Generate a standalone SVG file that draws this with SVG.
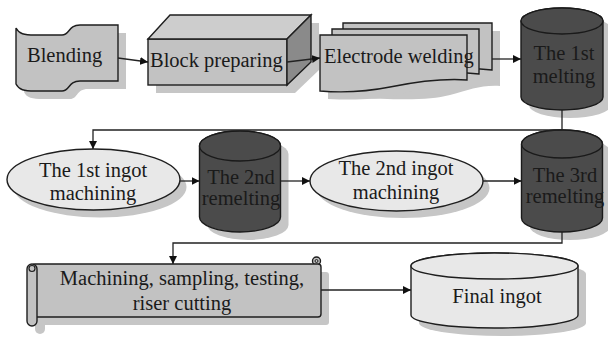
<svg xmlns="http://www.w3.org/2000/svg" width="608" height="347" viewBox="0 0 608 347">
<defs>
<style>
.sh{fill:#c6c6c6;stroke:none}
.g{fill:#c2c2c2;stroke:#1e1e1e;stroke-width:1.4}
.lt{fill:#e8e8e8;stroke:#1e1e1e;stroke-width:1.4}
.dk{fill:#4b4b4b;stroke:#1a1a1a;stroke-width:1.4}
.t{font-family:"Liberation Serif","Times New Roman",serif;font-size:20.5px;fill:#1a1a1a}
.c{text-anchor:middle}
.ln{fill:none;stroke:#222;stroke-width:1.3}
</style>
<marker id="ah" viewBox="0 0 10 10" refX="10" refY="5" markerWidth="8" markerHeight="8" markerUnits="userSpaceOnUse" orient="auto">
<path d="M0,0 L10,5 L0,10 Z" fill="#111"/>
</marker>
</defs>
<rect width="608" height="347" fill="#ffffff"/>

<g id="blending">
<path class="sh" d="M24,36 C27,42 32,43 43,43 L70,43 C78,43 76,33 88,33 L126,33 L126,89 L88,89 C76,89 78,99 70,99 L43,99 C32,99 27,98 24,92 Z"/>
<path class="g" d="M16,28 C19,34 24,35 35,35 L62,35 C70,35 68,25 80,25 L118,25 L118,81 L80,81 C68,81 70,91 62,91 L35,91 C24,91 19,90 16,84 Z"/>
<text class="t" x="27" y="62">Blending</text>
</g>

<g id="block">
<polygon class="sh" points="156,47 178,23 319,23 319,70 295,93 156,93"/>
<rect class="g" x="148" y="39" width="139" height="46"/>
<polygon points="148,39 170,15 311,15 287,39" fill="#cdcdcd" stroke="#1e1e1e" stroke-width="1.4"/>
<polygon points="287,39 311,15 311,62 287,85" fill="#8a8a8a" stroke="#1e1e1e" stroke-width="1.4"/>
<text class="t" x="150" y="67">Block preparing</text>
</g>

<g id="electrode">
<path class="sh" d="M351,31 L500,31 L500,86 C480,85 470,90 450,95 C430,100 410,100 351,98 Z"/>
<path class="sh" d="M328,43 L475,43 L475,88 C438,84 413,90 398,95 C373,100 353,100 328,99 Z"/>
<path class="g" d="M343,23 L492,23 L492,70 C455,66 430,72 410,77 C390,82 365,82 343,80 Z"/>
<path class="g" d="M332,29 L479,29 L479,74 C442,70 417,76 397,81 C377,86 352,86 332,85 Z"/>
<path class="g" d="M320,35 L467,35 L467,80 C440,78 415,82 390,87 C365,92 345,93 320,91 Z"/>
<text class="t" x="324" y="63">Electrode welding</text>
</g>

<g id="melt1">
<path class="sh" d="M529,29 A41,13 0 0 1 611,29 L611,105 A41,13 0 0 1 529,105 Z"/>
<path class="dk" d="M521,21 A41,13 0 0 1 603,21 L603,97 A41,13 0 0 1 521,97 Z"/>
<ellipse class="dk" cx="562" cy="21" rx="41" ry="13"/>
<text class="t c" x="564" y="60">The 1st</text>
<text class="t c" x="564" y="83">melting</text>
</g>

<g id="ingot1">
<ellipse class="sh" cx="100" cy="187" rx="86.5" ry="30.5"/>
<ellipse class="lt" cx="93.5" cy="179.5" rx="86.5" ry="30.5"/>
<text class="t c" x="93" y="177">The 1st ingot</text>
<text class="t c" x="93" y="200">machining</text>
</g>

<g id="remelt2">
<path class="sh" d="M207.5,154 A40.5,15 0 0 1 288.5,154 L288.5,225 A40.5,15 0 0 1 207.5,225 Z"/>
<path class="dk" d="M199.5,146 A40.5,15 0 0 1 280.5,146 L280.5,217 A40.5,15 0 0 1 199.5,217 Z"/>
<ellipse class="dk" cx="240" cy="146" rx="40.5" ry="15"/>
<text class="t c" x="241" y="184">The 2nd</text>
<text class="t c" x="241" y="205">remelting</text>
</g>

<g id="ingot2">
<ellipse class="sh" cx="403" cy="188" rx="86.5" ry="30"/>
<ellipse class="lt" cx="396.5" cy="181" rx="86.5" ry="30"/>
<text class="t c" x="396" y="175">The 2nd ingot</text>
<text class="t c" x="396" y="199">machining</text>
</g>

<g id="remelt3">
<path class="sh" d="M529.5,152 A40.5,14 0 0 1 610.5,152 L610.5,226 A40.5,14 0 0 1 529.5,226 Z"/>
<path class="dk" d="M521.5,144 A40.5,14 0 0 1 602.5,144 L602.5,218 A40.5,14 0 0 1 521.5,218 Z"/>
<ellipse class="dk" cx="562" cy="144" rx="40.5" ry="14"/>
<text class="t c" x="565" y="182">The 3rd</text>
<text class="t c" x="565" y="203">remelting</text>
</g>

<g id="machining">
<rect class="sh" x="40" y="272" width="289" height="53" rx="3"/>
<rect class="sh" x="35" y="300" width="10" height="34" rx="5"/>
<circle class="g" cx="316.5" cy="261" r="4"/>
<rect class="g" x="32" y="264" width="289" height="53" rx="3"/>
<circle cx="316.5" cy="261" r="1.5" fill="none" stroke="#1e1e1e" stroke-width="1"/>
<rect class="g" x="27" y="264" width="10" height="62" rx="5"/>
<circle cx="32" cy="268.5" r="3" fill="none" stroke="#1e1e1e" stroke-width="1.2"/>
<text class="t c" x="182" y="285">Machining, sampling, testing,</text>
<text class="t c" x="182" y="310">riser cutting</text>
</g>

<g id="final">
<path class="sh" d="M419,274 A83.5,13 0 0 1 586,274 L586,323 A83.5,13 0 0 1 419,323 Z"/>
<path class="lt" d="M411,266 A83.5,13 0 0 1 578,266 L578,315 A83.5,13 0 0 1 411,315 Z"/>
<ellipse class="lt" cx="494.5" cy="266" rx="83.5" ry="13"/>
<text class="t c" x="497" y="303">Final ingot</text>
</g>

<g id="connectors">
<line class="ln" x1="118" y1="58" x2="148" y2="62" marker-end="url(#ah)"/>
<line class="ln" x1="287" y1="62" x2="320" y2="58" marker-end="url(#ah)"/>
<line class="ln" x1="492" y1="59" x2="521" y2="59" marker-end="url(#ah)"/>
<polyline class="ln" points="562,110 562,130 93,130 93,149" marker-end="url(#ah)"/>
<line class="ln" x1="180" y1="181" x2="199.5" y2="181" marker-end="url(#ah)"/>
<line class="ln" x1="280.5" y1="181" x2="310" y2="181" marker-end="url(#ah)"/>
<line class="ln" x1="483" y1="181" x2="521.5" y2="181" marker-end="url(#ah)"/>
<polyline class="ln" points="562,232 562,243 173,243 173,264" marker-end="url(#ah)"/>
<line class="ln" x1="321" y1="290" x2="411" y2="290" marker-end="url(#ah)"/>
</g>
</svg>
